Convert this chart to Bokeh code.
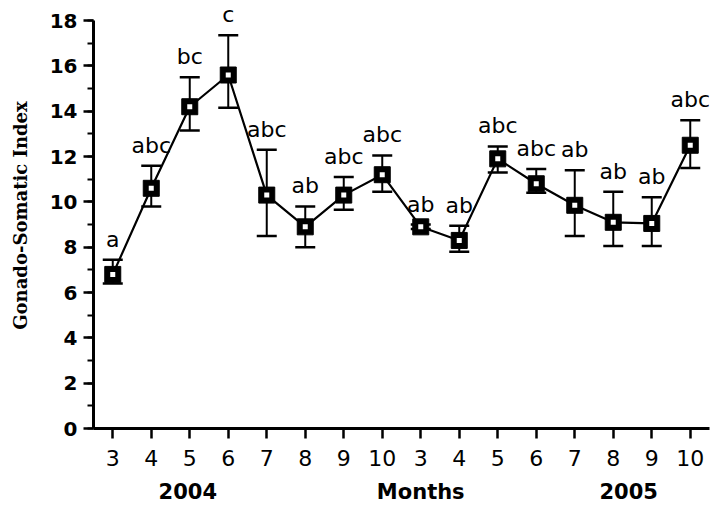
from bokeh.plotting import figure
from bokeh.models import (Range1d, FixedTicker, SingleIntervalTicker, LinearAxis,
                          Whisker, TeeHead, ColumnDataSource, LabelSet)
from bokeh.core.properties import value
from bokeh.embed import file_html
from bokeh.resources import INLINE

# ---- data ----
months = ["3", "4", "5", "6", "7", "8", "9", "10",
          "3", "4", "5", "6", "7", "8", "9", "10"]
gsi = [6.8, 10.6, 14.2, 15.6, 10.3, 8.9, 10.3, 11.2,
       8.9, 8.3, 11.9, 10.8, 9.85, 9.1, 9.05, 12.5]
upper = [7.45, 11.6, 15.5, 17.35, 12.3, 9.8, 11.1, 12.05,
         9.0, 8.95, 12.45, 11.45, 11.4, 10.45, 10.2, 13.6]
lower = [6.4, 9.8, 13.15, 14.15, 8.5, 8.0, 9.65, 10.45,
         8.8, 7.8, 11.3, 10.4, 8.5, 8.05, 8.05, 11.5]
letters = ["a", "abc", "bc", "c", "abc", "ab", "abc", "abc",
           "ab", "ab", "abc", "abc", "ab", "ab", "ab", "abc"]
group_labels = ["2004", "Months", "2005"]
group_pos = [1.95, 8.0, 13.4]

idx = list(range(len(gsi)))
src = ColumnDataSource(dict(x=idx, gsi=gsi, upper=upper, lower=lower, letters=letters))

p = figure(width=712, height=506, x_range=Range1d(-0.5, 15.5), y_range=Range1d(0, 18.8),
           output_backend="svg", toolbar_location=None,
           min_border_left=93, min_border_right=3, min_border_top=2, min_border_bottom=5)
p.outline_line_color = None
p.xgrid.grid_line_color = None
p.ygrid.grid_line_color = None
p.background_fill_color = "white"
p.border_fill_color = "white"

# x axis
xa = p.xaxis[0]
xa.ticker = FixedTicker(ticks=idx)
xa.major_label_overrides = {i: m for i, m in zip(idx, months)}
xa.axis_line_width = 3
xa.major_tick_line_width = 2.5
xa.major_tick_in = 0
xa.major_tick_out = 10
xa.minor_tick_line_color = None
xa.major_label_standoff = 11
xa.major_label_text_font = "DejaVu Sans"
xa.major_label_text_font_size = "22px"
xa.major_label_text_color = "black"

# y axis
ya = p.yaxis[0]
ya.bounds = (0, 18)
ya.ticker = SingleIntervalTicker(interval=2, num_minor_ticks=2)
ya.axis_line_width = 3
ya.major_tick_line_width = 2.5
ya.minor_tick_line_width = 2
ya.major_tick_in = 0
ya.major_tick_out = 10
ya.minor_tick_in = 0
ya.minor_tick_out = 6
ya.major_label_standoff = 6
ya.major_label_text_font = "DejaVu Sans"
ya.major_label_text_font_style = "bold"
ya.major_label_text_font_size = "20px"
ya.major_label_text_color = "black"
ya.axis_label = "Gonado-Somatic Index"
ya.axis_label_text_font = "DejaVu Serif"
ya.axis_label_text_font_style = "bold"
ya.axis_label_text_font_size = "18px"
ya.axis_label_text_color = "black"
ya.axis_label_standoff = 16

# second row of x labels: years and "Months"
ax2 = LinearAxis(ticker=FixedTicker(ticks=group_pos),
                 major_label_overrides={k: v for k, v in zip(group_pos, group_labels)},
                 axis_line_color=None, major_tick_line_color=None, minor_tick_line_color=None,
                 major_label_standoff=5,
                 major_label_text_font="DejaVu Sans", major_label_text_font_style="bold",
                 major_label_text_font_size="21px", major_label_text_color="black")
p.add_layout(ax2, "below")

# error bars
wh = Whisker(source=src, base="x", upper="upper", lower="lower",
             line_color="black", line_width=2,
             upper_head=TeeHead(size=20, line_width=2.5, line_color="black"),
             lower_head=TeeHead(size=20, line_width=2.5, line_color="black"))
p.add_layout(wh)

p.line("x", "gsi", source=src, line_color="black", line_width=2.2)
p.scatter("x", "gsi", source=src, marker="square", size=16,
          fill_color="black", line_color="black")
p.scatter("x", "gsi", source=src, marker="square", size=5,
          fill_color="white", line_color=None)

labels = LabelSet(x="x", y="upper", text="letters", source=src, y_offset=13,
                  text_align="center", text_baseline="alphabetic",
                  text_font=value("DejaVu Sans"), text_font_size="22px", text_color="black")
p.add_layout(labels)

open("out.html", "w").write(file_html(p, INLINE))
